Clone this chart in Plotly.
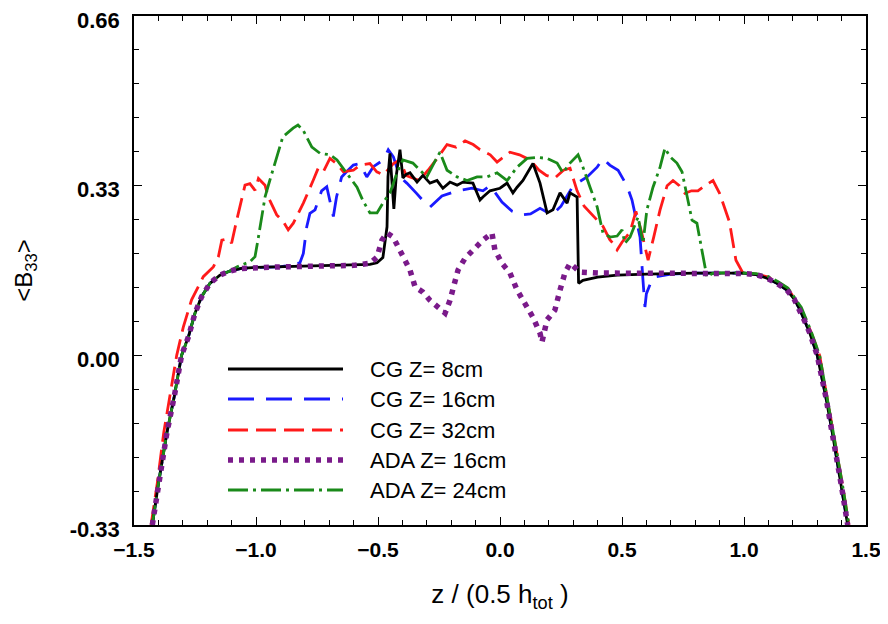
import plotly.graph_objects as go

# ---- data ----
tail_l_x = [-1.425, -1.40, -1.365, -1.335, -1.305, -1.277, -1.25, -1.223, -1.189, -1.148, -1.107]
tail_l_y = [-0.33, -0.25, -0.15, -0.08, 0.0, 0.036, 0.082, 0.114, 0.14, 0.156, 0.164]
tail_r_x = [1.05, 1.094, 1.135, 1.176, 1.205, 1.23, 1.25, 1.27, 1.30, 1.335, 1.362, 1.398, 1.425]
tail_r_y = [0.157, 0.15, 0.14, 0.127, 0.11, 0.088, 0.065, 0.043, 0.0, -0.08, -0.15, -0.25, -0.33]

cg8_x = tail_l_x + [-1.06, -1.0, -0.9, -0.8, -0.7, -0.6, -0.533, -0.504, -0.48, -0.463, -0.459, -0.451,
                    -0.443, -0.435, -0.425, -0.41, -0.398, -0.385, -0.369, -0.34, -0.316, -0.287, -0.258,
                    -0.234, -0.205, -0.176, -0.152, -0.111, -0.082, -0.07, -0.041, 0.0, 0.029, 0.053, 0.07,
                    0.094, 0.135, 0.164, 0.193, 0.217, 0.246, 0.275, 0.287, 0.316, 0.322, 0.34, 0.4, 0.48,
                    0.6, 0.8, 1.0] + tail_r_x
cg8_y = tail_l_y + [0.169, 0.171, 0.172, 0.173, 0.174, 0.175, 0.177, 0.18, 0.19, 0.25, 0.347, 0.393,
                    0.33, 0.285, 0.35, 0.40, 0.345, 0.352, 0.355, 0.337, 0.35, 0.335, 0.34,
                    0.325, 0.337, 0.331, 0.337, 0.335, 0.302, 0.308, 0.32, 0.325, 0.335, 0.316, 0.327,
                    0.34, 0.373, 0.335, 0.277, 0.283, 0.316, 0.296, 0.316, 0.308, 0.14, 0.146, 0.152, 0.156,
                    0.158, 0.16, 0.16] + tail_r_y

cg16_x = tail_l_x + [-1.06, -1.0, -0.9, -0.82, -0.806, -0.792, -0.779, -0.758, -0.731, -0.71, -0.683, -0.67,
                     -0.649, -0.629, -0.601, -0.574, -0.546, -0.519, -0.478, -0.458, -0.437, -0.41, -0.382,
                     -0.342, -0.314, -0.287, -0.238, -0.176, -0.115, -0.07, -0.04, 0.008, 0.05, 0.09, 0.125,
                     0.164, 0.213, 0.25, 0.30, 0.357, 0.398, 0.422, 0.45, 0.484, 0.52, 0.541, 0.574, 0.586,
                     0.594, 0.60, 0.627, 0.7, 0.8, 1.0] + tail_r_x
cg16_y = tail_l_y + [0.169, 0.171, 0.172, 0.18, 0.198, 0.25, 0.276, 0.283, 0.32, 0.328, 0.27, 0.308,
                     0.347, 0.357, 0.37, 0.373, 0.347, 0.367, 0.38, 0.40, 0.386, 0.347, 0.335,
                     0.315, 0.30, 0.288, 0.31, 0.32, 0.325, 0.32, 0.33, 0.298, 0.28, 0.273, 0.275,
                     0.286, 0.273, 0.29, 0.33, 0.347, 0.366, 0.383, 0.37, 0.36, 0.33, 0.302, 0.23, 0.146,
                     0.094, 0.12, 0.152, 0.158, 0.16, 0.16] + tail_r_y

cg32_x = [-1.43, -1.405, -1.378, -1.352, -1.325, -1.298, -1.264, -1.216, -1.175, -1.154, -1.14, -1.113, -1.10,
          -1.079, -1.059, -1.045, -1.025, -1.004, -0.99, -0.963, -0.95, -0.915, -0.888, -0.868, -0.847,
          -0.833, -0.806, -0.765, -0.745, -0.724, -0.697, -0.67, -0.642, -0.601, -0.574, -0.533, -0.505,
          -0.478, -0.437, -0.41, -0.385, -0.369, -0.33, -0.295, -0.262, -0.217, -0.18, -0.143, -0.11,
          -0.082, -0.04, -0.012, 0.041, 0.08, 0.123, 0.16, 0.19, 0.225, 0.26, 0.287, 0.316, 0.345,
          0.369, 0.41, 0.422, 0.45, 0.463, 0.48, 0.50, 0.533, 0.553, 0.557, 0.58, 0.607, 0.63, 0.656,
          0.685, 0.709, 0.735, 0.758, 0.785, 0.811, 0.84, 0.873, 0.90, 0.94, 0.967, 0.996, 1.05, 1.10,
          1.14, 1.18, 1.235, 1.275, 1.31, 1.34, 1.367, 1.403, 1.43]
cg32_y = [-0.33, -0.25, -0.15, -0.08, 0.0, 0.055, 0.108, 0.153, 0.172, 0.192, 0.224, 0.227, 0.218,
          0.263, 0.302, 0.331, 0.334, 0.321, 0.344, 0.331, 0.308, 0.273, 0.26, 0.244, 0.257,
          0.27, 0.296, 0.341, 0.364, 0.357, 0.383, 0.373, 0.357, 0.36, 0.37, 0.373, 0.357,
          0.351, 0.373, 0.38, 0.35, 0.347, 0.34, 0.36, 0.38, 0.41, 0.405, 0.417, 0.41,
          0.40, 0.39, 0.376, 0.395, 0.39, 0.38, 0.36, 0.35, 0.345, 0.36, 0.364, 0.32, 0.29,
          0.277, 0.257, 0.251, 0.225, 0.218, 0.205, 0.22, 0.24, 0.273, 0.28, 0.24, 0.185, 0.23, 0.283,
          0.33, 0.34, 0.33, 0.315, 0.32, 0.32, 0.33, 0.34, 0.315, 0.26, 0.185, 0.16, 0.158, 0.152,
          0.142, 0.13, 0.09, 0.045, 0.0, -0.08, -0.15, -0.25, -0.33]

ada16_x = tail_l_x + [-1.06, -1.0, -0.9, -0.8, -0.7, -0.6, -0.533, -0.504, -0.484, -0.463, -0.438, -0.418,
                      -0.398, -0.369, -0.348, -0.316, -0.287, -0.254, -0.225, -0.205, -0.193, -0.172, -0.143,
                      -0.111, -0.07, -0.033, -0.021, 0.008, 0.041, 0.07, 0.102, 0.135, 0.164, 0.172, 0.193,
                      0.225, 0.246, 0.266, 0.287, 0.328, 0.41, 0.6, 0.8, 1.0] + tail_r_x
ada16_y = tail_l_y + [0.169, 0.171, 0.172, 0.173, 0.174, 0.175, 0.179, 0.191, 0.224, 0.238, 0.23, 0.211,
                      0.191, 0.166, 0.133, 0.123, 0.107, 0.092, 0.082, 0.107, 0.127, 0.166, 0.189,
                      0.205, 0.224, 0.238, 0.205, 0.179, 0.16, 0.127, 0.102, 0.074, 0.043, 0.026, 0.069,
                      0.088, 0.127, 0.16, 0.179, 0.162, 0.16, 0.16, 0.16, 0.159] + tail_r_y

ada24_x = tail_l_x + [-1.079, -1.025, -1.004, -0.99, -0.977, -0.963, -0.943, -0.922, -0.89, -0.848, -0.828,
                      -0.807, -0.771, -0.738, -0.697, -0.668, -0.643, -0.615, -0.586, -0.561, -0.533, -0.504,
                      -0.48, -0.451, -0.422, -0.398, -0.357, -0.34, -0.30, -0.258, -0.246, -0.217, -0.176,
                      -0.135, -0.094, -0.053, -0.012, 0.029, 0.07, 0.111, 0.152, 0.193, 0.234, 0.258, 0.287,
                      0.32, 0.34, 0.369, 0.398, 0.422, 0.451, 0.48, 0.50, 0.512, 0.533, 0.566, 0.586, 0.602,
                      0.627, 0.656, 0.676, 0.697, 0.725, 0.746, 0.766, 0.787, 0.807, 0.828, 0.848, 0.873,
                      0.95, 1.05, 1.10, 1.14, 1.18, 1.235, 1.275, 1.31, 1.34, 1.367, 1.403, 1.43]
ada24_y = tail_l_y + [0.172, 0.182, 0.192, 0.23, 0.27, 0.308, 0.341, 0.373, 0.425, 0.442, 0.448,
                      0.438, 0.405, 0.393, 0.39, 0.38, 0.364, 0.347, 0.327, 0.30, 0.277, 0.277,
                      0.296, 0.316, 0.355, 0.38, 0.374, 0.366, 0.347, 0.385, 0.395, 0.36, 0.347,
                      0.34, 0.347, 0.347, 0.355, 0.34, 0.366, 0.383, 0.385, 0.383, 0.374, 0.355, 0.374,
                      0.39, 0.366, 0.327, 0.289, 0.238, 0.23, 0.232, 0.244, 0.218, 0.23, 0.269, 0.218, 0.283,
                      0.327, 0.366, 0.403, 0.386, 0.374, 0.357, 0.308, 0.263, 0.257, 0.205, 0.152, 0.16,
                      0.161, 0.159, 0.153, 0.143, 0.131, 0.093, 0.047, 0.0, -0.08, -0.15, -0.25, -0.33]

names = ["CG Z= 8cm", "CG Z= 16cm", "CG Z= 32cm", "ADA Z= 16cm", "ADA Z= 24cm"]
colors = ["black", "#1a1aff", "#ff1a1a", "#7a1a8a", "#1a8a1a"]
dashes = ["solid", "26px,12px", "20px,8px", "5px,6px", "20px,5px,3px,5px"]
widths = [2.8, 2.8, 2.8, 5.5, 2.8]

series = [(cg16_x, cg16_y, 1), (cg32_x, cg32_y, 2), (cg8_x, cg8_y, 0),
          (ada24_x, ada24_y, 4), (ada16_x, ada16_y, 3)]

fig = go.Figure()
for xs, ys, i in series:
    fig.add_trace(go.Scatter(x=xs, y=ys, mode="lines", name=names[i],
                             line=dict(color=colors[i], width=widths[i], dash=dashes[i])))

# the page body adds 8px around the figure, so the figure is 16px smaller
OFF = 8
W, H = 888 - 2 * OFF, 624 - 2 * OFF
# plot area wanted in page pixels
L, R, T, B = 134, 866, 16, 525


def px(x):
    return (x - L) / (R - L)


def py(y):
    return (B - y) / (B - T)


# hand-made legend like the original (long line samples)
rows = [369, 399, 430, 460, 490]
shapes = []
annots = []
for i, yy in enumerate(rows):
    shapes.append(dict(type="line", xref="paper", yref="paper",
                       x0=px(228), x1=px(343), y0=py(yy), y1=py(yy),
                       line=dict(color=colors[i], width=widths[i], dash=dashes[i])))
    annots.append(dict(xref="paper", yref="paper", x=px(368), y=py(yy), text=names[i],
                       showarrow=False, xanchor="left", yanchor="middle",
                       font=dict(size=22, color="black")))

fig.update_layout(
    width=W, height=H,
    margin=dict(l=L - OFF, r=W + OFF - R, t=T - OFF, b=H + OFF - B),
    plot_bgcolor="white", paper_bgcolor="white",
    showlegend=False,
    font=dict(family="Arial, Liberation Sans, sans-serif", color="black"),
    shapes=shapes, annotations=annots,
)

fig.update_xaxes(
    range=[-1.5, 1.5], tickmode="linear", tick0=-1.5, dtick=0.5, tickformat=".1f",
    ticks="inside", ticklen=8, tickwidth=1, tickcolor="black",
    minor=dict(dtick=0.1, tick0=-1.5, ticks="inside", ticklen=5, tickcolor="black"),
    showline=True, linecolor="black", linewidth=1.5, mirror="ticks",
    showgrid=False, zeroline=False, ticklabelstandoff=5, automargin=False,
    ticklabeloverflow="allow",
    tickfont=dict(size=21, weight="bold"),
    title=dict(text="z / (0.5 h<sub>tot</sub> )", font=dict(size=26), standoff=25),
)
fig.update_yaxes(
    range=[-0.33, 0.66], tickmode="array", tickvals=[-0.33, 0.0, 0.33, 0.66],
    ticktext=["-0.33", "0.00", "0.33", "0.66"],
    ticks="inside", ticklen=8, tickwidth=1, tickcolor="black",
    minor=dict(dtick=0.066, tick0=-0.33, ticks="inside", ticklen=5, tickcolor="black"),
    showline=True, linecolor="black", linewidth=1.5, mirror="ticks",
    showgrid=False, zeroline=False, ticklabelstandoff=8, automargin=False,
    ticklabeloverflow="allow", ticklabelshift=4,
    tickfont=dict(size=22, weight="bold"),
    title=dict(text="&lt;B<sub>33</sub>&gt;", font=dict(size=24), standoff=30),
)

fig.write_html("out.html")
